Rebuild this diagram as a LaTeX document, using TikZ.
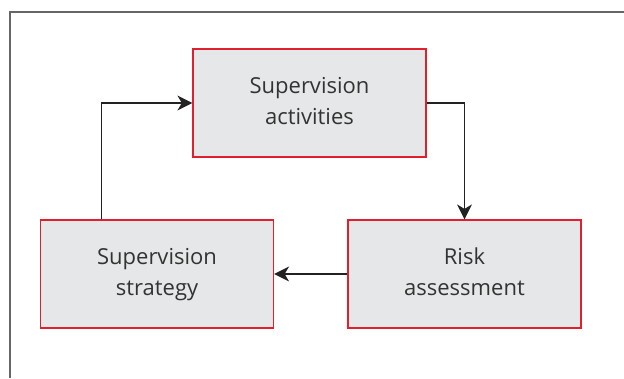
\documentclass[tikz,border=0pt]{standalone}
\usepackage{fontspec}
\setmainfont{Open Sans}
\usetikzlibrary{arrows.meta}
\definecolor{boxfill}{HTML}{E6E7E8}
\definecolor{boxline}{HTML}{E0202E}
\definecolor{txt}{HTML}{333333}
\definecolor{frame}{HTML}{666666}
\definecolor{arr}{HTML}{222222}
\begin{document}
\begin{tikzpicture}[x=1pt,y=-1pt,
  procbox/.style={draw=boxline,fill=boxfill,line width=1.2pt,minimum width=233pt,minimum height=108pt,
    align=center,text=txt,font=\fontsize{22}{31}\selectfont,inner sep=0pt},
  conn/.style={line width=1.5pt,draw=arr,-{Stealth[length=15pt,width=15pt,inset=4.5pt]}}]
\useasboundingbox (0,0) rectangle (624,378);
\draw[frame,line width=1.5pt] (10,378) -- (10,12) -- (624,12);
\node[procbox] (act) at (309.5,103) {\strut Supervision\\\strut activities};
\node[procbox] (risk) at (464.5,274) {\strut Risk\\\strut assessment};
\node[procbox] (strat) at (157,274) {\strut Supervision\\\strut strategy};
\draw[conn] (act.east) -- (act.east -| risk.north) -- (risk.north);
\draw[conn] (risk.west) -- (strat.east);
\coordinate (up) at (101.5,103);
\draw[conn] (strat.north -| up) -- (up) -- (act.west);
\end{tikzpicture}
\end{document}
